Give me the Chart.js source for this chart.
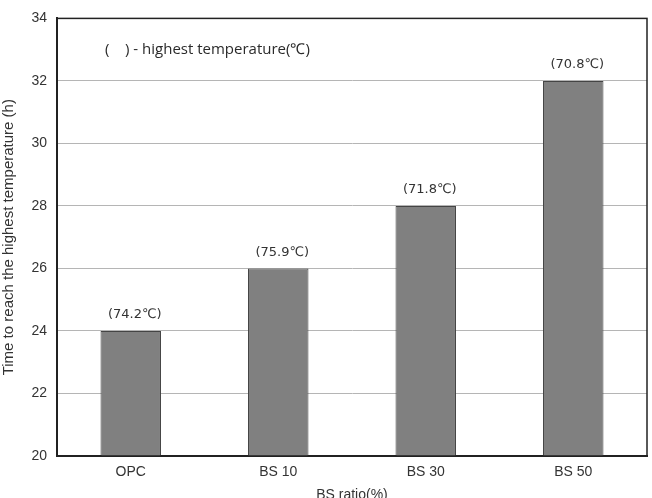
<!DOCTYPE html>
<html>
<head>
<meta charset="utf-8">
<script src="https://cdn.jsdelivr.net/npm/chart.js@4.4.0/dist/chart.umd.min.js"></script>
<style>
  html, body { margin: 0; padding: 0; background: #fff; }
  #wrap { width: 652px; height: 498px; }
</style>
</head>
<body>
<div id="wrap"><canvas id="c" width="652" height="498"></canvas></div>
<script>
const categories = ['OPC', 'BS 10', 'BS 30', 'BS 50'];
const hours = [24, 26, 28, 32];
const peakTemps = ['(74.2℃)', '(75.9℃)', '(71.8℃)', '(70.8℃)'];
const noteText = '(    ) - highest temperature(℃)';

const TICK_FONT = { family: 'Liberation Sans, Arial, sans-serif', size: 14 };

// frame around the plot + labels above bars + legend note
const extras = {
  id: 'extras',
  afterDatasetsDraw(chart) {
    const { ctx, chartArea: a } = chart;
    const meta = chart.getDatasetMeta(0);
    ctx.save();
    ctx.strokeStyle = '#222';
    ctx.lineWidth = 1.5;
    ctx.strokeRect(a.left, a.top, a.right - a.left, a.bottom - a.top);

    ctx.fillStyle = '#333';
    ctx.font = '13px "DejaVu Sans", sans-serif';
    ctx.textAlign = 'center';
    ctx.textBaseline = 'middle';
    meta.data.forEach((bar, i) => {
      ctx.fillText(peakTemps[i], bar.x + 4, bar.y - 16);
    });

    ctx.textAlign = 'left';
    ctx.fillStyle = '#2a2a2a';
    ctx.font = '15px "Open Sans", "Liberation Sans", sans-serif';
    ctx.fillText(noteText, a.left + 48, a.top + 31);
    ctx.restore();
  }
};

new Chart(document.getElementById('c'), {
  type: 'bar',
  data: {
    labels: categories,
    datasets: [{
      data: hours,
      backgroundColor: '#808080',
      borderColor: '#444',
      borderWidth: 1,
      borderSkipped: 'bottom',
      barPercentage: 0.41,
      categoryPercentage: 1.0
    }]
  },
  options: {
    responsive: false,
    animation: false,
    devicePixelRatio: 1,
    layout: { padding: { top: 18, right: 5, left: 0, bottom: 0 } },
    plugins: { legend: { display: false }, tooltip: { enabled: false } },
    scales: {
      x: {
        grid: { display: false },
        border: { display: true, color: '#222', width: 2 },
        ticks: { color: '#333', font: TICK_FONT, padding: 0 },
        title: {
          display: true, text: 'BS ratio(%)', color: '#333',
          font: { family: 'Liberation Sans, Arial, sans-serif', size: 14 },
          padding: { top: 12, bottom: -6 }
        },
        afterFit(scale) { scale.height = 42; }
      },
      y: {
        min: 20, max: 34,
        ticks: { stepSize: 2, color: '#333', font: TICK_FONT, padding: 10 },
        grid: { color: '#b5b5b5', lineWidth: 1, drawTicks: false },
        border: { display: true, color: '#222', width: 2 },
        title: {
          display: true, text: 'Time to reach the highest temperature (h)', color: '#333',
          font: { family: 'Liberation Sans, Arial, sans-serif', size: 15 },
          padding: { top: 0, bottom: 0 }
        },
        afterFit(scale) { scale.width = 57; }
      }
    }
  },
  plugins: [extras]
});
</script>
</body>
</html>
